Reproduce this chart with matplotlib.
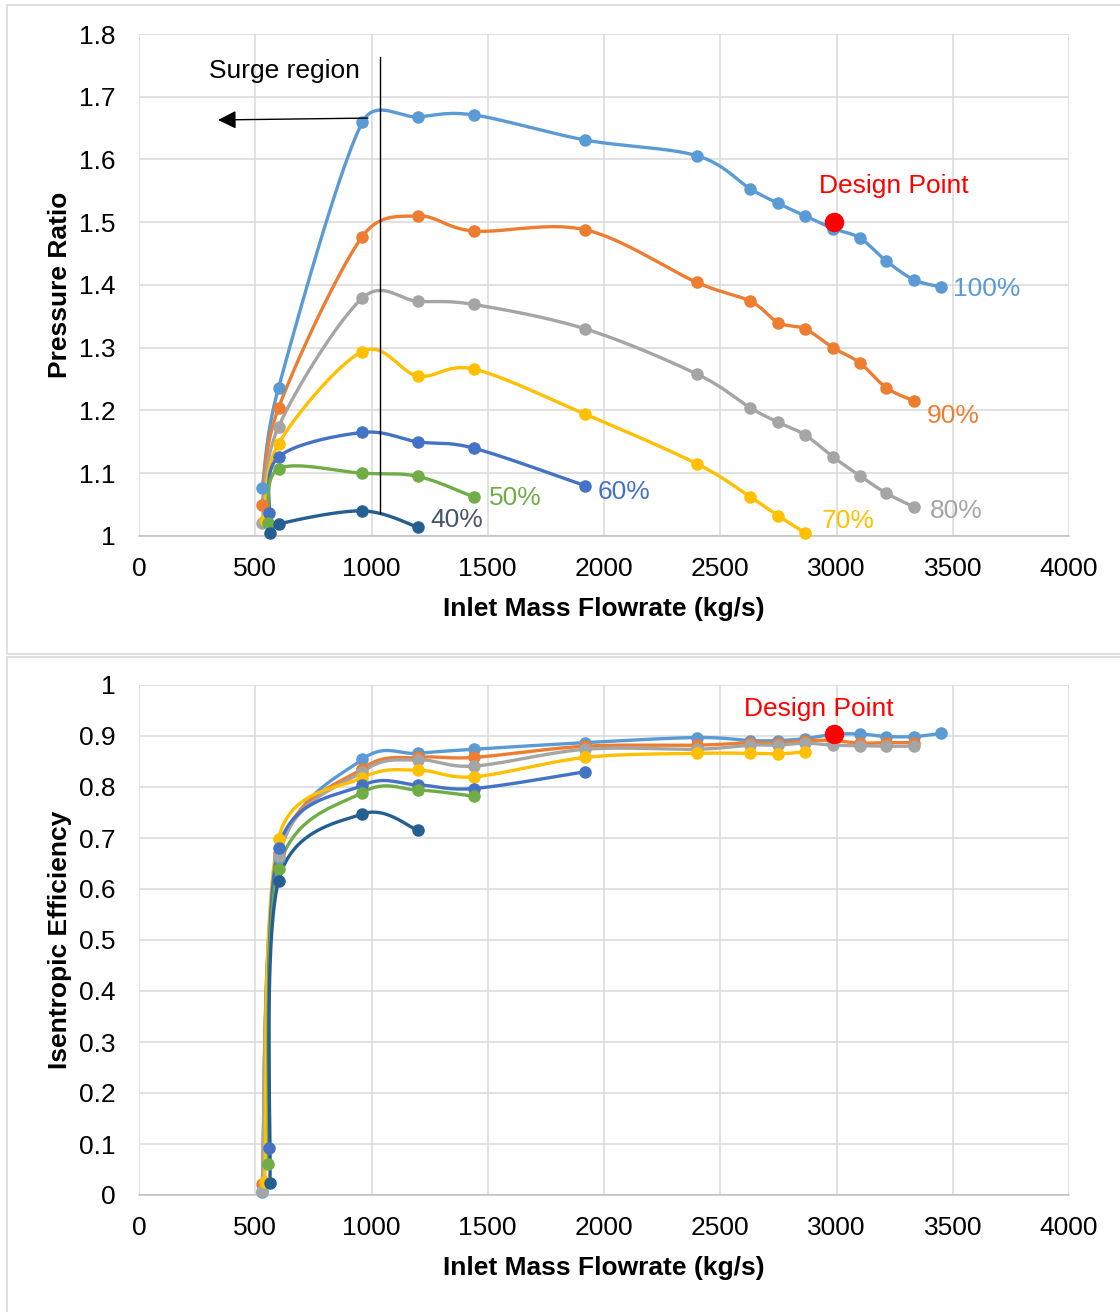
import numpy as np
import matplotlib
matplotlib.use("Agg")
import matplotlib.pyplot as plt
from matplotlib.patches import Rectangle

plt.rcParams['font.family'] = ['Liberation Sans', 'DejaVu Sans']

# ---------------- data ----------------
speed_labels = ['100%', '90%', '80%', '70%', '60%', '50%', '40%']
colors = ['#5B9BD5', '#ED7D31', '#A5A5A5', '#FFC000', '#4472C4', '#70AD47', '#255E91']
label_colors = ['#5B9BD5', '#ED7D31', '#A5A5A5', '#FFC000', '#4472C4', '#70AD47', '#44546A']

x100 = [530, 600, 960, 1200, 1440, 1920, 2400, 2630, 2750, 2865, 2985, 3100, 3215, 3335, 3450]
pr100 = [1.077, 1.236, 1.659, 1.668, 1.671, 1.631, 1.606, 1.553, 1.530, 1.510, 1.490, 1.475, 1.438, 1.408, 1.397]
eff100 = [0.005, 0.660, 0.854, 0.866, 0.874, 0.887, 0.897, 0.891, 0.891, 0.895, 0.903, 0.904, 0.899, 0.899, 0.905]

x90 = [530, 600, 960, 1200, 1440, 1920, 2400, 2630, 2750, 2865, 2985, 3100, 3215, 3335]
pr90 = [1.049, 1.204, 1.477, 1.510, 1.486, 1.488, 1.404, 1.374, 1.340, 1.330, 1.300, 1.276, 1.236, 1.215]
eff90 = [0.022, 0.670, 0.836, 0.858, 0.858, 0.880, 0.882, 0.887, 0.886, 0.891, 0.891, 0.886, 0.887, 0.887]

x80 = [530, 600, 960, 1200, 1440, 1920, 2400, 2630, 2750, 2865, 2985, 3100, 3215, 3335]
pr80 = [1.021, 1.174, 1.379, 1.374, 1.369, 1.330, 1.258, 1.204, 1.181, 1.161, 1.126, 1.096, 1.068, 1.046]
eff80 = [0.008, 0.665, 0.830, 0.853, 0.841, 0.874, 0.874, 0.882, 0.882, 0.886, 0.882, 0.881, 0.880, 0.880]

x70 = [540, 600, 960, 1200, 1440, 1920, 2400, 2630, 2750, 2865]
pr70 = [1.025, 1.147, 1.294, 1.255, 1.266, 1.194, 1.115, 1.062, 1.032, 1.005]
eff70 = [0.025, 0.699, 0.818, 0.833, 0.820, 0.858, 0.866, 0.866, 0.865, 0.869]

x60 = [560, 600, 960, 1200, 1440, 1920]
pr60 = [1.036, 1.126, 1.165, 1.150, 1.140, 1.080]
eff60 = [0.092, 0.680, 0.803, 0.804, 0.797, 0.830]

x50 = [556, 600, 960, 1200, 1440]
pr50 = [1.020, 1.107, 1.100, 1.095, 1.062]
eff50 = [0.060, 0.639, 0.789, 0.794, 0.782]

x40 = [563, 600, 960, 1200]
pr40 = [1.004, 1.019, 1.040, 1.014]
eff40 = [0.023, 0.616, 0.747, 0.715]

design_x = 2990
design_pr = 1.500
design_eff = 0.903

xs_all = [x100, x90, x80, x70, x60, x50, x40]
pr_all = [pr100, pr90, pr80, pr70, pr60, pr50, pr40]
eff_all = [eff100, eff90, eff80, eff70, eff60, eff50, eff40]

# label anchor positions (data coords)
pr_label_pos = [(3500, 1.394), (3389, 1.191), (3402, 1.040), (2938, 1.024),
                (1974, 1.070), (1505, 1.061), (1252, 1.026)]

x_ticks = [0, 500, 1000, 1500, 2000, 2500, 3000, 3500, 4000]
pr_ticks = [1.0, 1.1, 1.2, 1.3, 1.4, 1.5, 1.6, 1.7, 1.8]
pr_tick_labels = ['1', '1.1', '1.2', '1.3', '1.4', '1.5', '1.6', '1.7', '1.8']
eff_ticks = [0, 0.1, 0.2, 0.3, 0.4, 0.5, 0.6, 0.7, 0.8, 0.9, 1.0]
eff_tick_labels = ['0', '0.1', '0.2', '0.3', '0.4', '0.5', '0.6', '0.7', '0.8', '0.9', '1']

# ---------------- figure ----------------
W, H = 1120, 1312
fig = plt.figure(figsize=(W / 100, H / 100), dpi=100)

def frac_rect(l, t, r, b):
    return [l / W, 1 - b / H, (r - l) / W, (b - t) / H]

# chart-area frames
for (l, t, r, b) in [(7, 5, 1130, 654), (7, 657, 1130, 1320)]:
    fig.patches.append(Rectangle((l / W, 1 - b / H), (r - l) / W, (b - t) / H,
                                 transform=fig.transFigure, fill=False,
                                 edgecolor='#D9D9D9', lw=1.2, clip_on=False))

ax1 = fig.add_axes(frac_rect(139, 34, 1069, 536))
ax2 = fig.add_axes(frac_rect(139, 685, 1069, 1195))

TICK_FS = 19
TITLE_FS = 19


def excel_smooth(xs, ys, sx, sy, n=40):
    P = np.column_stack([np.asarray(xs, float) * sx, np.asarray(ys, float) * sy])
    out = [P[0]]
    m = len(P)
    for i in range(m - 1):
        p0 = P[i - 1] if i > 0 else P[i]
        p1 = P[i]
        p2 = P[i + 1]
        p3 = P[i + 2] if i + 2 < m else P[i + 1]
        d12 = np.linalg.norm(p2 - p1)
        d02 = np.linalg.norm(p2 - p0)
        d13 = np.linalg.norm(p3 - p1)
        f = 1 / 6
        if d02 > 0 and d02 / 6 > d12 / 2:
            f = d12 / (2 * d02)
        g = 1 / 6
        if d13 > 0 and d13 / 6 > d12 / 2:
            g = d12 / (2 * d13)
        c1 = p1 + f * (p2 - p0)
        c2 = p2 - g * (p3 - p1)
        t = np.linspace(0, 1, n)[1:, None]
        seg = ((1 - t) ** 3) * p1 + 3 * ((1 - t) ** 2) * t * c1 + 3 * (1 - t) * t ** 2 * c2 + t ** 3 * p2
        out.extend(seg)
    out = np.array(out)
    return out[:, 0] / sx, out[:, 1] / sy


def style_axes(ax, ylim, yticks, ylabels, ylabel):
    ax.set_xlim(0, 4000)
    ax.set_ylim(*ylim)
    ax.set_xticks(x_ticks)
    ax.set_xticklabels([str(v) for v in x_ticks])
    ax.set_yticks(yticks)
    ax.set_yticklabels(ylabels)
    ax.grid(True, color='#D9D9D9', lw=1.1)
    ax.set_axisbelow(True)
    for s in ['top', 'right', 'left']:
        ax.spines[s].set_visible(False)
    ax.spines['bottom'].set_color('#BFBFBF')
    ax.spines['bottom'].set_linewidth(1.1)
    ax.tick_params(axis='both', length=0, labelsize=TICK_FS, colors='black')
    ax.tick_params(axis='y', pad=17)
    ax.tick_params(axis='x', pad=15)
    ax.set_xlabel('Inlet Mass Flowrate (kg/s)', fontsize=TITLE_FS, fontweight='bold', labelpad=11.5)
    ax.set_ylabel(ylabel, fontsize=TITLE_FS, fontweight='bold', labelpad=5)


style_axes(ax1, (1.0, 1.8), pr_ticks, pr_tick_labels, 'Pressure Ratio')
style_axes(ax2, (0.0, 1.0), eff_ticks, eff_tick_labels, 'Isentropic Efficiency')

# pixel scale factors
sx = 930 / 4000
sy1 = 502 / 0.8
sy2 = 510 / 1.0

for xs, ps, es, c in zip(xs_all, pr_all, eff_all, colors):
    lx, ly = excel_smooth(xs, ps, sx, sy1)
    ax1.plot(lx, ly, color=c, lw=2.4, solid_capstyle='round', clip_on=False, zorder=3)
    ax1.plot(xs, ps, 'o', color=c, ms=8, clip_on=False, zorder=4)
    lx, ly = excel_smooth(xs, es, sx, sy2)
    ax2.plot(lx, ly, color=c, lw=2.4, solid_capstyle='round', clip_on=False, zorder=3)
    ax2.plot(xs, es, 'o', color=c, ms=8, clip_on=False, zorder=4)

for (lx, ly), lab, c in zip(pr_label_pos, speed_labels, label_colors):
    ax1.text(lx, ly, lab, color=c, fontsize=TICK_FS, ha='left', va='center', zorder=5)

# design point
ax1.plot([design_x], [design_pr], 'o', color='#FF0000', ms=13, zorder=6)
ax1.text(2925, 1.558, 'Design Point', color='#FF0000', fontsize=TICK_FS, ha='left', va='center')
ax2.plot([design_x], [design_eff], 'o', color='#FF0000', ms=13, zorder=6)
ax2.text(2602, 0.952, 'Design Point', color='#FF0000', fontsize=TICK_FS, ha='left', va='center')

# surge region annotation
ax1.text(301, 1.741, 'Surge region', color='black', fontsize=TICK_FS, ha='left', va='center')
ax1.plot([1037, 1037], [1.037, 1.763], color='black', lw=1.0, zorder=5)
ax1.annotate('', xy=(340, 1.663), xytext=(985, 1.666),
             arrowprops=dict(arrowstyle='-|>,head_length=0.5,head_width=0.25', color='black',
                             lw=1.0, mutation_scale=22, shrinkA=0, shrinkB=0), zorder=5)

fig.savefig('out.png', dpi=100, facecolor='white')
